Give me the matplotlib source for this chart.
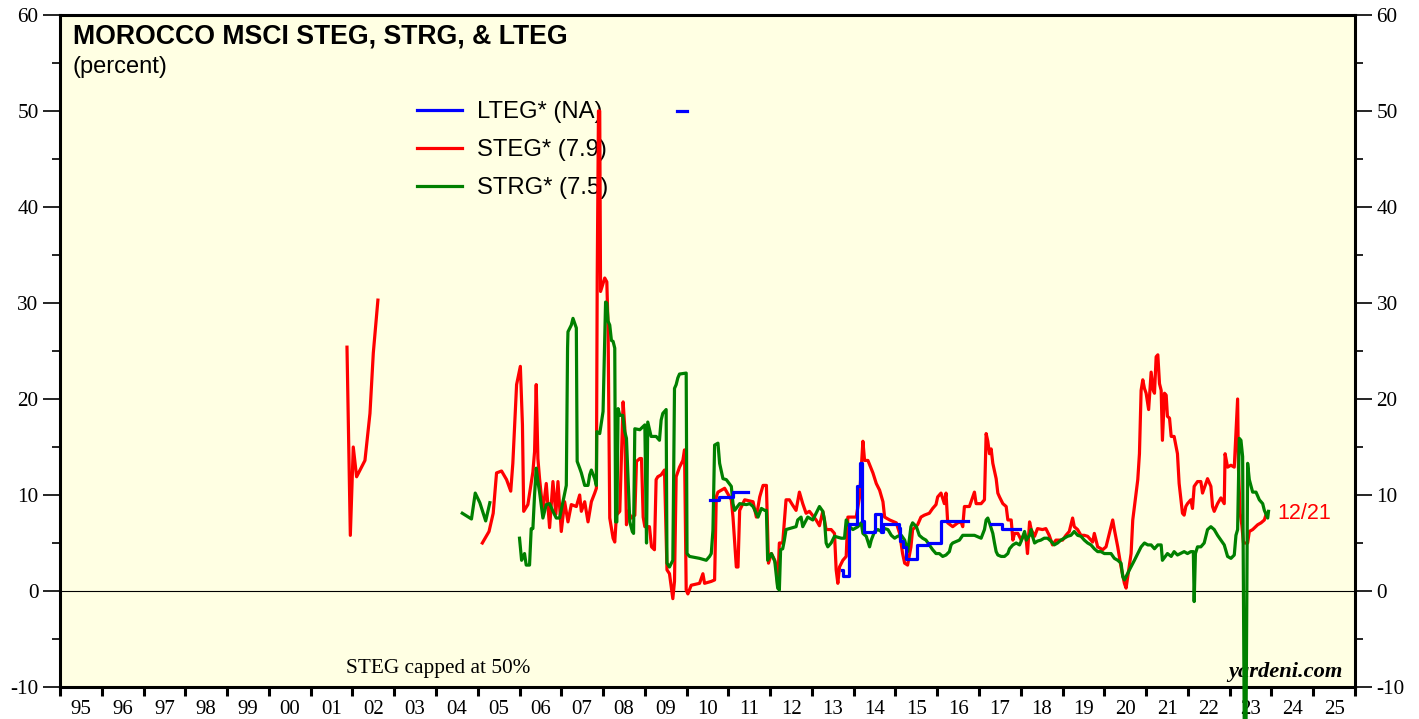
import numpy as np
import matplotlib
matplotlib.use("Agg")
import matplotlib.pyplot as plt

OUT = "out.png"

# STEG (red), decimal year / percent, capped at 50
steg_a_yr = [2001.87, 2001.95, 2002.02, 2002.10, 2002.30, 2002.42, 2002.50, 2002.61]
steg_a_val = [25.4, 5.8, 15.0, 11.9, 13.6, 18.5, 24.8, 30.3]

steg_b_yr = [2005.11, 2005.27, 2005.37, 2005.45, 2005.57, 2005.69, 2005.79, 2005.84, 2005.93, 2006.02,
             2006.07, 2006.10, 2006.20, 2006.32, 2006.36, 2006.40, 2006.44, 2006.48, 2006.56, 2006.64,
             2006.72, 2006.80, 2006.87, 2006.92, 2007.00, 2007.08, 2007.16, 2007.24, 2007.36, 2007.44,
             2007.48, 2007.56, 2007.64, 2007.72, 2007.80, 2007.84, 2007.86, 2007.89, 2007.92, 2007.94,
             2008.04, 2008.09, 2008.12, 2008.16, 2008.24, 2008.28, 2008.32, 2008.40, 2008.48, 2008.52,
             2008.56, 2008.60, 2008.68, 2008.76, 2008.80, 2008.88, 2008.92, 2008.96, 2009.00, 2009.11,
             2009.16, 2009.23, 2009.27, 2009.31, 2009.39, 2009.47, 2009.53, 2009.59, 2009.67, 2009.71,
             2009.75, 2009.83, 2009.91, 2009.95, 2009.99, 2010.03, 2010.11, 2010.31, 2010.39, 2010.43,
             2010.59, 2010.67, 2010.71, 2010.75, 2010.91, 2011.07, 2011.11, 2011.19, 2011.23, 2011.27,
             2011.39, 2011.59, 2011.67, 2011.75, 2011.83, 2011.91, 2011.96, 2012.03, 2012.11, 2012.15,
             2012.18, 2012.22, 2012.30, 2012.38, 2012.46, 2012.53, 2012.62, 2012.70, 2012.78, 2012.86,
             2012.94, 2013.10, 2013.18, 2013.26, 2013.34, 2013.46, 2013.54, 2013.58, 2013.62, 2013.66,
             2013.74, 2013.82, 2013.86, 2013.98, 2014.06, 2014.14, 2014.22, 2014.26, 2014.34, 2014.46,
             2014.54, 2014.62, 2014.70, 2014.74, 2014.86, 2015.02, 2015.10, 2015.17, 2015.22, 2015.29,
             2015.37, 2015.41, 2015.53, 2015.61, 2015.69, 2015.81, 2015.89, 2015.97, 2016.01, 2016.09,
             2016.17, 2016.21, 2016.25, 2016.37, 2016.49, 2016.57, 2016.61, 2016.65, 2016.77, 2016.89,
             2016.93, 2017.05, 2017.13, 2017.17, 2017.21, 2017.25, 2017.29, 2017.33, 2017.41, 2017.45,
             2017.49, 2017.57, 2017.65, 2017.69, 2017.77, 2017.81, 2017.85, 2017.93, 2018.01, 2018.09,
             2018.13, 2018.16, 2018.21, 2018.25, 2018.33, 2018.40, 2018.52, 2018.60, 2018.68, 2018.76,
             2018.84, 2019.00, 2019.08, 2019.16, 2019.24, 2019.28, 2019.36, 2019.44, 2019.52, 2019.60,
             2019.72, 2019.76, 2019.84, 2019.96, 2020.04, 2020.12, 2020.20, 2020.24, 2020.32, 2020.40,
             2020.48, 2020.52, 2020.56, 2020.64, 2020.68, 2020.72, 2020.80, 2020.84, 2020.88, 2020.92,
             2020.96, 2021.00, 2021.06, 2021.12, 2021.17, 2021.20, 2021.24, 2021.28, 2021.32, 2021.36,
             2021.39, 2021.44, 2021.48, 2021.51, 2021.56, 2021.60, 2021.67, 2021.75, 2021.79, 2021.87,
             2021.91, 2021.95, 2021.99, 2022.07, 2022.11, 2022.15, 2022.23, 2022.31, 2022.35, 2022.47,
             2022.55, 2022.59, 2022.63, 2022.71, 2022.79, 2022.87, 2022.89, 2022.95, 2023.03, 2023.11,
             2023.19, 2023.21, 2023.25, 2023.29, 2023.33, 2023.43, 2023.47, 2023.55, 2023.67, 2023.75,
             2023.83, 2023.88]
steg_b_val = [5.0, 6.2, 8.1, 12.3, 12.5, 11.6, 10.4, 13.3, 21.5, 23.4,
              17.3, 8.3, 9.0, 12.4, 14.5, 21.5, 13.8, 11.7, 8.3, 11.2,
              6.6, 11.4, 8.0, 11.4, 6.2, 9.3, 7.2, 9.0, 8.8, 10.0,
              8.3, 9.3, 7.2, 9.3, 10.2, 10.7, 32.6, 50.0, 50.0, 31.2,
              32.6, 32.2, 27.4, 7.6, 5.5, 5.1, 7.9, 8.3, 19.7, 17.0,
              6.9, 8.3, 7.6, 7.9, 13.5, 13.8, 13.8, 7.7, 6.7, 6.7,
              4.6, 4.3, 11.6, 11.9, 12.1, 12.6, 2.2, 1.8, -0.8, 1.0,
              11.9, 12.9, 13.6, 14.7, 0.1, -0.3, 0.6, 0.8, 1.8, 0.8,
              1.0, 1.15, 9.8, 10.3, 10.7, 9.5, 7.7, 2.5, 2.5, 8.4,
              9.5, 9.3, 7.7, 9.8, 11.0, 11.0, 2.9, 3.9, 3.2, 2.5,
              0.45, 5.0, 5.0, 9.5, 9.5, 9.0, 8.4, 10.3, 9.1, 8.1,
              8.3, 7.4, 6.8, 8.3, 6.4, 6.4, 6.0, 2.2, 0.8, 2.5,
              3.2, 3.6, 7.7, 7.7, 7.7, 9.8, 15.6, 13.6, 13.6, 12.3,
              11.2, 10.5, 9.3, 7.7, 7.4, 7.1, 6.0, 3.9, 2.9, 2.7,
              4.6, 6.4, 6.9, 7.7, 7.9, 8.1, 8.6, 9.0, 9.8, 10.2,
              9.1, 10.2, 7.1, 6.7, 7.1, 7.2, 6.7, 8.8, 8.8, 10.3,
              9.1, 9.1, 9.5, 16.4, 15.6, 14.3, 14.8, 13.3, 11.7, 10.2,
              9.8, 9.1, 8.8, 7.4, 7.4, 5.3, 6.0, 6.0, 5.3, 6.0,
              5.3, 3.9, 7.2, 6.4, 5.7, 6.5, 6.4, 6.5, 5.8, 4.8,
              5.3, 5.3, 5.8, 6.2, 7.6, 6.7, 6.4, 5.8, 5.8, 5.7,
              5.1, 6.0, 4.6, 4.3, 4.6, 6.0, 7.4, 6.4, 4.6, 2.5,
              0.8, 0.3, 1.5, 3.9, 7.4, 8.8, 11.6, 14.3, 20.9, 22.0,
              21.1, 20.6, 18.9, 22.8, 20.9, 20.6, 24.4, 24.6, 21.6, 20.9,
              15.7, 20.6, 20.4, 18.2, 18.0, 16.1, 16.1, 14.3, 11.2, 8.1,
              7.9, 8.8, 9.1, 9.5, 8.6, 10.9, 11.4, 11.4, 10.2, 11.7,
              10.9, 8.8, 8.3, 9.1, 9.7, 9.1, 14.3, 12.9, 13.1, 12.9,
              20.0, 12.9, 8.1, 6.9, 5.0, 5.0, 6.2, 6.4, 6.9, 7.1,
              7.4, 8.1]

# STRG (green)
strg_a_yr = [2004.63, 2004.85, 2004.94, 2005.05, 2005.19, 2005.29]
strg_a_val = [8.1, 7.5, 10.2, 9.2, 7.3, 9.2]

strg_b_yr = [2006.00, 2006.05, 2006.12, 2006.16, 2006.24, 2006.28, 2006.32, 2006.36, 2006.40, 2006.44,
             2006.48, 2006.56, 2006.64, 2006.72, 2006.80, 2006.88, 2006.96, 2007.04, 2007.12, 2007.15,
             2007.16, 2007.24, 2007.28, 2007.36, 2007.38, 2007.44, 2007.48, 2007.56, 2007.64, 2007.68,
             2007.72, 2007.80, 2007.84, 2007.85, 2007.92, 2008.00, 2008.06, 2008.09, 2008.12, 2008.16,
             2008.20, 2008.24, 2008.28, 2008.30, 2008.33, 2008.36, 2008.40, 2008.47, 2008.52, 2008.56,
             2008.64, 2008.70, 2008.73, 2008.76, 2008.88, 2009.00, 2009.04, 2009.07, 2009.15, 2009.27,
             2009.35, 2009.39, 2009.43, 2009.51, 2009.53, 2009.59, 2009.67, 2009.71, 2009.75, 2009.79,
             2009.83, 2009.99, 2010.01, 2010.07, 2010.31, 2010.47, 2010.55, 2010.59, 2010.63, 2010.67,
             2010.75, 2010.79, 2010.87, 2010.95, 2011.07, 2011.11, 2011.15, 2011.27, 2011.43, 2011.51,
             2011.59, 2011.71, 2011.79, 2011.87, 2011.91, 2011.94, 2012.03, 2012.11, 2012.15, 2012.18,
             2012.22, 2012.25, 2012.30, 2012.34, 2012.38, 2012.46, 2012.62, 2012.66, 2012.74, 2012.78,
             2012.90, 2013.02, 2013.18, 2013.26, 2013.30, 2013.34, 2013.38, 2013.46, 2013.54, 2013.70,
             2013.78, 2013.82, 2013.90, 2013.98, 2014.10, 2014.18, 2014.22, 2014.30, 2014.38, 2014.42,
             2014.50, 2014.58, 2014.66, 2014.74, 2014.82, 2014.90, 2014.98, 2015.05, 2015.14, 2015.22,
             2015.26, 2015.29, 2015.33, 2015.37, 2015.41, 2015.50, 2015.57, 2015.65, 2015.73, 2015.81,
             2015.89, 2015.97, 2016.05, 2016.13, 2016.21, 2016.29, 2016.33, 2016.37, 2016.53, 2016.61,
             2016.73, 2016.89, 2017.05, 2017.13, 2017.17, 2017.21, 2017.25, 2017.33, 2017.37, 2017.41,
             2017.45, 2017.53, 2017.61, 2017.69, 2017.73, 2017.81, 2017.89, 2017.97, 2018.01, 2018.09,
             2018.13, 2018.21, 2018.25, 2018.28, 2018.33, 2018.40, 2018.48, 2018.56, 2018.64, 2018.72,
             2018.80, 2018.88, 2018.96, 2019.04, 2019.12, 2019.20, 2019.28, 2019.36, 2019.44, 2019.52,
             2019.60, 2019.68, 2019.76, 2019.84, 2019.92, 2020.00, 2020.16, 2020.24, 2020.32, 2020.40,
             2020.44, 2020.48, 2020.52, 2020.60, 2020.72, 2020.80, 2020.88, 2020.96, 2021.04, 2021.12,
             2021.20, 2021.28, 2021.36, 2021.39, 2021.51, 2021.60, 2021.67, 2021.75, 2021.91, 2021.99,
             2022.07, 2022.13, 2022.15, 2022.18, 2022.23, 2022.31, 2022.39, 2022.47, 2022.55, 2022.63,
             2022.71, 2022.79, 2022.87, 2022.95, 2023.03, 2023.11, 2023.15, 2023.19, 2023.23, 2023.27,
             2023.31, 2023.35, 2023.39, 2023.43, 2023.47, 2023.55, 2023.63, 2023.71, 2023.79, 2023.83,
             2023.91, 2023.93]
strg_b_val = [5.5, 3.2, 3.9, 2.7, 2.7, 6.5, 6.5, 10.0, 12.8, 11.4,
              10.3, 7.6, 9.0, 9.1, 8.3, 7.6, 7.6, 9.3, 11.0, 25.3,
              27.0, 27.7, 28.4, 27.4, 13.5, 12.8, 12.3, 11.0, 11.0, 12.1,
              12.6, 11.7, 11.0, 16.6, 16.4, 18.7, 30.1, 30.0, 28.1, 27.7,
              26.1, 26.0, 25.3, 7.2, 7.2, 19.0, 18.3, 18.3, 16.6, 15.9,
              7.2, 6.2, 6.0, 16.9, 16.8, 17.3, 5.0, 17.6, 16.1, 16.1,
              15.7, 17.8, 18.5, 18.9, 2.9, 2.5, 3.2, 21.1, 21.5, 22.2,
              22.6, 22.7, 3.9, 3.6, 3.4, 3.2, 3.6, 3.9, 6.3, 15.2,
              15.4, 13.3, 11.7, 11.6, 10.9, 9.1, 8.4, 9.1, 9.0, 9.1,
              8.8, 7.7, 8.6, 8.4, 8.4, 3.2, 3.9, 3.1, 1.5, 0.3,
              0.1, 4.3, 4.4, 5.3, 6.4, 6.5, 6.7, 7.4, 7.7, 6.7,
              7.7, 7.4, 8.8, 8.3, 7.4, 5.0, 4.6, 5.0, 5.7, 5.5,
              5.5, 7.4, 6.7, 6.4, 6.7, 7.1, 6.0, 5.7, 4.6, 5.3,
              6.2, 6.4, 6.2, 6.5, 6.4, 5.8, 5.5, 5.7, 5.8, 5.3,
              4.6, 4.1, 5.3, 6.7, 7.1, 6.7, 5.8, 5.5, 5.3, 4.8,
              4.3, 3.9, 3.9, 3.6, 3.75, 4.1, 4.8, 5.0, 5.3, 5.8,
              5.8, 5.8, 5.5, 6.4, 7.4, 7.6, 7.1, 6.0, 5.0, 4.1,
              3.75, 3.6, 3.6, 3.9, 4.4, 4.8, 5.0, 4.8, 5.2, 6.2,
              5.3, 5.8, 6.4, 5.7, 5.0, 5.2, 5.3, 5.5, 5.5, 5.2,
              4.8, 5.0, 5.3, 5.5, 5.7, 5.8, 6.2, 5.8, 5.7, 5.3,
              5.0, 4.8, 4.4, 4.1, 4.1, 3.9, 3.9, 3.4, 3.2, 2.9,
              1.5, 1.15, 1.5, 2.2, 3.2, 3.9, 4.6, 5.0, 4.8, 4.8,
              4.4, 4.8, 4.8, 3.2, 3.9, 3.6, 4.1, 3.75, 4.1, 3.9,
              4.1, 4.1, -1.1, 3.9, 4.6, 4.6, 5.0, 6.4, 6.7, 6.4,
              5.8, 5.3, 4.8, 3.6, 3.4, 3.75, 5.8, 6.4, 15.9, 15.7,
              14.0, -15.0, -15.0, 13.3, 11.6, 10.3, 10.3, 9.5, 9.1, 8.4,
              7.6, 8.3]

# LTEG (blue), step changes
lteg_a_yr = [2010.55, 2010.77, 2011.10, 2011.48]
lteg_a_val = [9.5, 9.8, 10.3, 10.3]
lteg_b_yr = [2013.72, 2013.74, 2013.88, 2014.07, 2014.14, 2014.19, 2014.25, 2014.51, 2014.65, 2014.71,
             2015.08, 2015.11, 2015.17, 2015.24, 2015.51, 2015.79, 2016.08, 2016.73]
lteg_b_val = [2.2, 1.6, 7.0, 10.9, 13.3, 7.3, 6.1, 8.0, 6.1, 7.0,
              6.6, 5.2, 4.6, 3.3, 4.8, 5.0, 7.25, 7.25]
lteg_c_yr = [2017.29, 2017.54, 2017.97]
lteg_c_val = [7.0, 6.5, 6.5]
lteg_d_yr = [2009.76, 2010.02]
lteg_d_val = [50.0, 50.0]

years = list(range(1995, 2026))
year_labels = [f"{y % 100:02d}" for y in years]
yticks = [-10, 0, 10, 20, 30, 40, 50, 60]

RED, GREEN, BLUE = "#FF0000", "#008000", "#0000FF"
LW = 2.3

fig = plt.figure(figsize=(14.19, 7.19), dpi=100)
ax = fig.add_axes([60 / 1419, 32 / 719, 1295 / 1419, 672 / 719])
ax.set_facecolor("#FFFFE3")

ax.axhline(0, color="black", lw=0.8, zorder=1)

ax.plot(steg_a_yr, steg_a_val, color=RED, lw=LW, zorder=3)
ax.plot(steg_b_yr, steg_b_val, color=RED, lw=LW, zorder=3)
ax.plot(strg_a_yr, strg_a_val, color=GREEN, lw=LW, zorder=4)
ax.plot(strg_b_yr, strg_b_val, color=GREEN, lw=LW, zorder=4, clip_on=False)
for xs, ys in [(lteg_a_yr, lteg_a_val), (lteg_b_yr, lteg_b_val),
               (lteg_c_yr, lteg_c_val), (lteg_d_yr, lteg_d_val)]:
    ax.plot(xs, ys, color=BLUE, lw=LW, drawstyle="steps-post", zorder=5)

ax.set_xlim(1995, 2026)
ax.set_ylim(-10, 60)

for s in ax.spines.values():
    s.set_linewidth(2.2)

serif = "Liberation Serif"
sans = "Liberation Sans"

ax.set_yticks(yticks)
ax.set_yticklabels([str(v) for v in yticks], fontfamily=serif, fontsize=15.3)
ax.set_yticks(np.arange(-5, 60, 10), minor=True)
ax.tick_params(axis="y", which="major", direction="out", length=12, width=1.2,
               left=True, right=True, labelleft=True, labelright=True, pad=3.5)
ax.tick_params(axis="y", which="minor", direction="out", length=6, width=1.2,
               left=True, right=True)

ax.set_xticks(list(range(1995, 2027)))
ax.set_xticklabels([])
ax.set_xticks([y + 0.5 for y in years], minor=True)
ax.set_xticklabels(year_labels, minor=True, fontfamily=serif, fontsize=15)
ax.tick_params(axis="x", which="major", direction="out", length=6.5, width=2.2)
ax.tick_params(axis="x", which="minor", length=0, pad=9)

ax.text(0.010, (687 - 36) / 672, "MOROCCO MSCI STEG, STRG, & LTEG", transform=ax.transAxes,
        fontfamily=sans, fontweight="bold", fontsize=19.2, va="center", ha="left")
ax.text(0.010, (687 - 67) / 672, "(percent)", transform=ax.transAxes,
        fontfamily=sans, fontsize=17, va="center", ha="left")

handles = [plt.Line2D([], [], color=c, lw=LW) for c in (BLUE, RED, GREEN)]
leg = ax.legend(handles, ["LTEG* (NA)", "STEG* (7.9)", "STRG* (7.5)"],
                loc="upper left", bbox_to_anchor=((417 - 60) / 1295, (687 - 101) / 672),
                frameon=False, prop={"family": sans, "size": 17.2},
                handlelength=1.9, handletextpad=0.62, labelspacing=0.68,
                borderpad=0, borderaxespad=0)
leg.set_zorder(2)

ax.text(2024.15, steg_b_val[-1], "12/21", color=RED, fontfamily=sans, fontsize=15.5,
        va="center", ha="left")
ax.text((346 - 60) / 1295, (687 - 668) / 672, "STEG capped at 50%", transform=ax.transAxes,
        fontfamily=serif, fontsize=15.3, va="center", ha="left")
ax.text((1343 - 60) / 1295, (687 - 672) / 672, "yardeni.com", transform=ax.transAxes,
        fontfamily=serif, fontweight="bold", fontstyle="italic", fontsize=16.2,
        va="center", ha="right")

fig.savefig(OUT, dpi=100)
